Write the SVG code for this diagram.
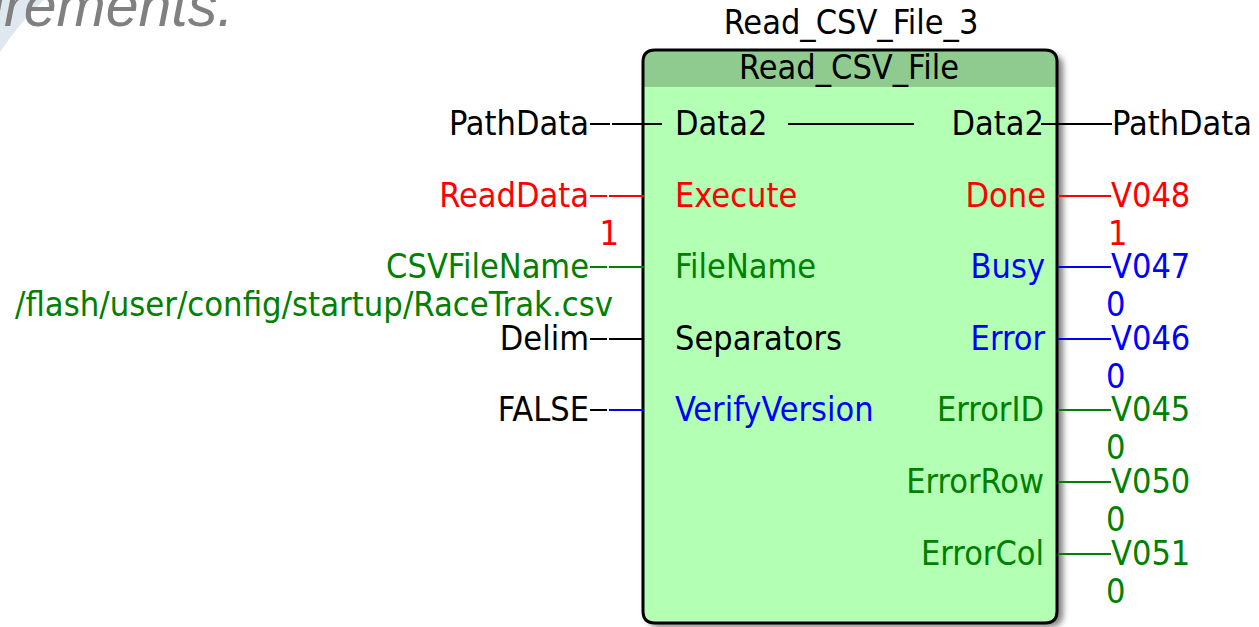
<svg xmlns="http://www.w3.org/2000/svg" width="1259" height="627" viewBox="0 0 1259 627">
  <defs>
    <filter id="shadow" x="-5%" y="-5%" width="115%" height="115%">
      <feGaussianBlur stdDeviation="3"/>
    </filter>
  </defs>
  <style>
    text { font-family: "DejaVu Sans Condensed", "DejaVu Sans", sans-serif; font-stretch: condensed; font-size: 34px; }
    .end { text-anchor: end; }
    .mid { text-anchor: middle; }
    .k { fill: #000000; }
    .r { fill: #ff0000; }
    .b { fill: #0000ff; }
    .g { fill: #008000; }
    .wk { stroke: #000000; stroke-width: 2; fill: none; }
    .wr { stroke: #ff0000; stroke-width: 2; fill: none; }
    .wb { stroke: #0000ff; stroke-width: 2; fill: none; }
    .wg { stroke: #008000; stroke-width: 2; fill: none; }
    .title { font-family: "Liberation Sans", Arial, sans-serif; font-style: italic; font-size: 59px; fill: #808080; }
  </style>

  <rect x="0" y="0" width="1259" height="627" fill="#ffffff"/>

  <!-- slide background swoosh and heading fragment -->
  <path d="M0,0 L44,0 Q20,22 0,52 Z" fill="#dfe7ef"/>
  <text class="title" x="-9" y="26">irements.</text>

  <!-- function block -->
  <g id="block">
    <rect x="647" y="54" width="416" height="573" rx="12" fill="#000000" opacity="0.5" filter="url(#shadow)"/>
    <path d="M643,62 Q643,50 655,50 L1045,50 Q1057,50 1057,62 L1057,611 Q1057,623 1045,623 L655,623 Q643,623 643,611 Z" fill="#b3ffb3"/>
    <path d="M643,87 L643,62 Q643,50 655,50 L1045,50 Q1057,50 1057,62 L1057,87 Z" fill="#8fcb8f"/>
    <path d="M643,62 Q643,50 655,50 L1045,50 Q1057,50 1057,62 L1057,611 Q1057,623 1045,623 L655,623 Q643,623 643,611 Z" fill="none" stroke="#000000" stroke-width="3"/>
    <text class="mid k" x="851" y="34">Read_CSV_File_3</text>
    <text class="mid k" x="849" y="79">Read_CSV_File</text>

    <!-- input pins -->
    <text class="k" x="675" y="135">Data2</text>
    <text class="r" x="675" y="207">Execute</text>
    <text class="g" x="675" y="278">FileName</text>
    <text class="k" x="675" y="350">Separators</text>
    <text class="b" x="675" y="421">VerifyVersion</text>

    <!-- output pins -->
    <text class="end k" x="1044" y="135">Data2</text>
    <text class="end r" x="1046" y="207">Done</text>
    <text class="end b" x="1045" y="278">Busy</text>
    <text class="end b" x="1045" y="350">Error</text>
    <text class="end g" x="1044" y="421">ErrorID</text>
    <text class="end g" x="1044" y="493">ErrorRow</text>
    <text class="end g" x="1044" y="565">ErrorCol</text>
  </g>

  <!-- wires -->
  <g id="connectors">
    <path class="wk" d="M590,124 H610 M612,124 H662"/>
    <path class="wk" d="M788,124 H914"/>
    <path class="wk" d="M1041,124 H1112"/>
    <path class="wr" d="M590,196 H607 M609,196 H644"/>
    <path class="wg" d="M590,267 H607 M609,267 H644"/>
    <path class="wk" d="M590,339 H607 M609,339 H644"/>
    <path class="wk" d="M590,410 H607"/>
    <path class="wb" d="M609,410 H644"/>
    <path class="wr" d="M1058,196 H1111"/>
    <path class="wb" d="M1058,267 H1111"/>
    <path class="wb" d="M1058,339 H1111"/>
    <path class="wg" d="M1058,410 H1111"/>
    <path class="wg" d="M1058,482 H1111"/>
    <path class="wg" d="M1058,554 H1111"/>
  </g>

  <!-- input variables -->
  <g id="inputs">
    <text class="end k" x="589" y="135">PathData</text>
    <text class="end r" x="589" y="207">ReadData</text>
    <text class="end r" x="619" y="245">1</text>
    <text class="end g" x="589" y="278">CSVFileName</text>
    <text class="g" x="15" y="316" textLength="598" lengthAdjust="spacingAndGlyphs">/flash/user/config/startup/RaceTrak.csv</text>
    <text class="end k" x="589" y="350">Delim</text>
    <text class="end k" x="589" y="421">FALSE</text>
  </g>

  <!-- output variables -->
  <g id="outputs">
    <text class="k" x="1112" y="135">PathData</text>
    <text class="r" x="1111" y="207">V048</text>
    <text class="r" x="1108" y="245">1</text>
    <text class="b" x="1111" y="278">V047</text>
    <text class="b" x="1106" y="316">0</text>
    <text class="b" x="1111" y="350">V046</text>
    <text class="b" x="1106" y="388">0</text>
    <text class="g" x="1111" y="421">V045</text>
    <text class="g" x="1106" y="459">0</text>
    <text class="g" x="1111" y="493">V050</text>
    <text class="g" x="1106" y="531">0</text>
    <text class="g" x="1111" y="565">V051</text>
    <text class="g" x="1106" y="603">0</text>
  </g>
</svg>
